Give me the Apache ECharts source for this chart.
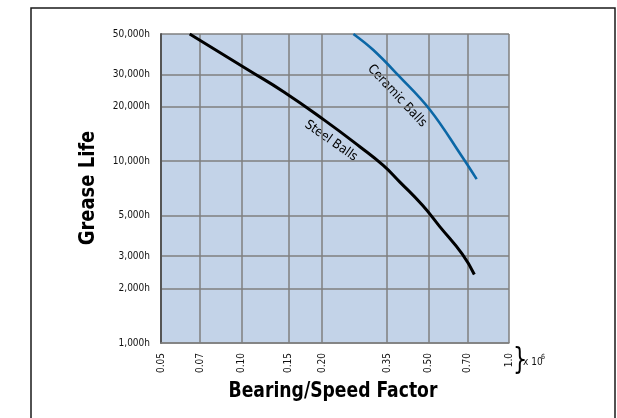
<!DOCTYPE html>
<html>
<head>
<meta charset="utf-8">
<script src="https://cdn.jsdelivr.net/npm/echarts@6/dist/echarts.min.js"></script>
<style>
    html, body { margin: 0; padding: 0; background: #ffffff; }
    #chart { width: 617px; height: 418px; }
</style>
</head>
<body>
<div id="chart"></div>
<script>
// tick values and labels
const xTicks = [0.05, 0.07, 0.10, 0.15, 0.20, 0.35, 0.50, 0.70, 1.0];
const xTickLabels = ['0.05', '0.07', '0.10', '0.15', '0.20', '0.35', '0.50', '0.70', '1.0'];
const yTicks = [1000, 2000, 3000, 5000, 10000, 20000, 30000, 50000];
const yTickLabels = ['1,000h', '2,000h', '3,000h', '5,000h', '10,000h', '20,000h', '30,000h', '50,000h'];

// curves: [bearing/speed factor, grease life h]
const steelBalls = [
    [0.064, 50000], [0.106, 31700], [0.144, 24000], [0.204, 16800],
    [0.277, 12000], [0.338, 9500], [0.391, 7670], [0.474, 5730], [0.552, 4350],
    [0.669, 3080], [0.742, 2380]
];
const ceramicBalls = [
    [0.262, 50000], [0.311, 40800], [0.385, 29700], [0.507, 19100],
    [0.667, 10600], [0.757, 7960]
];

const narrow = '"Liberation Sans Narrow", "DejaVu Sans Condensed", sans-serif';
const gridColor = '#7f7f7f';

const labelFor = (ticks, labels) => (value) => {
    const i = ticks.findIndex(t => Math.abs(t - value) / t < 1e-6);
    return i >= 0 ? labels[i] : '';
};

let option = {
    animation: false,
    grid: {
        left: 161,
        top: 34,
        width: 348,
        height: 309,
        show: true,
        backgroundColor: '#c3d3e8',
        borderWidth: 0
    },
    xAxis: {
        type: 'log',
        min: 0.05,
        max: 1.0,
        axisLine: { show: true, lineStyle: { color: gridColor, width: 1.5 } },
        axisTick: { show: false, customValues: xTicks },
        splitLine: { show: true, lineStyle: { color: gridColor, width: 1.5 } },
        minorTick: { show: false },
        minorSplitLine: { show: false },
        axisLabel: {
            customValues: xTicks,
            rotate: 90,
            margin: 10,
            color: '#111',
            fontFamily: narrow,
            fontSize: 10,
            formatter: labelFor(xTicks, xTickLabels)
        }
    },
    yAxis: {
        type: 'log',
        min: 1000,
        max: 50000,
        axisLine: { show: true, lineStyle: { color: '#555', width: 2 } },
        axisTick: { show: false, customValues: yTicks },
        splitLine: { show: true, lineStyle: { color: gridColor, width: 1.5 } },
        minorTick: { show: false },
        minorSplitLine: { show: false },
        axisLabel: {
            customValues: yTicks,
            margin: 11,
            color: '#111',
            fontFamily: narrow,
            fontSize: 10,
            formatter: labelFor(yTicks, yTickLabels)
        }
    },
    series: [
        {
            name: 'Steel Balls',
            type: 'line',
            data: steelBalls,
            smooth: 0.5,
            showSymbol: false,
            lineStyle: { color: '#000000', width: 3 }
        },
        {
            name: 'Ceramic Balls',
            type: 'line',
            data: ceramicBalls,
            smooth: 0.4,
            showSymbol: false,
            lineStyle: { color: '#0b67a6', width: 2.6 }
        }
    ],
    graphic: [
        {
            type: 'rect',
            shape: { x: 31, y: 8, width: 584, height: 430 },
            style: { fill: 'none', stroke: '#1a1a1a', lineWidth: 1.5 },
            silent: true
        },
        {
            type: 'text',
            x: 89, y: 188,
            rotation: Math.PI / 2,
            scaleX: 0.95,
            style: {
                text: 'Grease Life',
                fill: '#000',
                font: 'bold 21px ' + narrow,
                align: 'center',
                verticalAlign: 'middle'
            }
        },
        {
            type: 'text',
            x: 333, y: 392,
            scaleX: 0.91,
            style: {
                text: 'Bearing/Speed Factor',
                fill: '#000',
                font: 'bold 21px ' + narrow,
                align: 'center',
                verticalAlign: 'middle'
            }
        },
        {
            type: 'text',
            x: 331, y: 141,
            rotation: -35 * Math.PI / 180,
            style: {
                text: 'Steel Balls',
                fill: '#000',
                font: '13px ' + narrow,
                align: 'center',
                verticalAlign: 'middle'
            }
        },
        {
            type: 'text',
            x: 397, y: 96,
            rotation: -47 * Math.PI / 180,
            style: {
                text: 'Ceramic Balls',
                fill: '#000',
                font: '13px ' + narrow,
                align: 'center',
                verticalAlign: 'middle'
            }
        },
        {
            type: 'text',
            x: 513, y: 361,
            scaleX: 0.8,
            style: {
                text: '}',
                fill: '#000',
                font: '30px "DejaVu Sans Condensed", sans-serif',
                align: 'left',
                verticalAlign: 'middle'
            }
        },
        {
            type: 'text',
            x: 523, y: 362,
            style: {
                text: 'x 10',
                fill: '#111',
                font: '10px ' + narrow,
                align: 'left',
                verticalAlign: 'middle'
            }
        },
        {
            type: 'text',
            x: 541, y: 357,
            style: {
                text: '6',
                fill: '#111',
                font: '7px ' + narrow,
                align: 'left',
                verticalAlign: 'middle'
            }
        }
    ]
};

const chartInit = () => {
    let myChart = echarts.init(document.getElementById('chart'), null, { renderer: 'canvas' });
    option && myChart.setOption(option);
};

chartInit();
</script>
</body>
</html>
